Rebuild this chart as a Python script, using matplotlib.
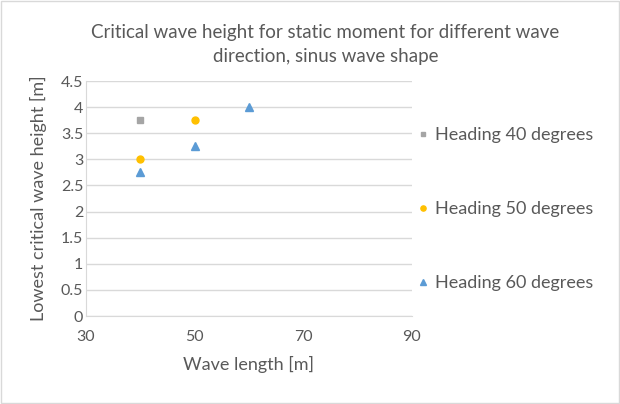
import matplotlib.pyplot as plt
from matplotlib.patches import Rectangle

plt.rcParams['font.family'] = ['Lato', 'DejaVu Sans']

# data
h40_x = [40]
h40_y = [3.75]
h50_x = [40, 50]
h50_y = [3.0, 3.75]
h60_x = [40, 50, 60]
h60_y = [2.75, 3.25, 4.0]

x_ticks = [30, 50, 70, 90]
y_ticks = [0, 0.5, 1, 1.5, 2, 2.5, 3, 3.5, 4, 4.5]

text_col = '#595959'
grid_col = '#D9D9D9'

fig = plt.figure(figsize=(6.2, 4.04), dpi=100)
ax = fig.add_axes([0.1387, 0.2178, 0.5258, 0.5817])

ax.plot(h40_x, h40_y, 's', color='#A5A5A5', markersize=4.5, label='Heading 40 degrees')
ax.plot(h50_x, h50_y, 'o', color='#FFC000', markersize=5, label='Heading 50 degrees')
ax.plot(h60_x, h60_y, '^', color='#5B9BD5', markersize=5.5, label='Heading 60 degrees')

ax.set_xlim(30, 90)
ax.set_ylim(0, 4.5)
ax.set_xticks(x_ticks)
ax.set_yticks(y_ticks)
ax.set_yticklabels([('%g' % v) for v in y_ticks])
ax.yaxis.grid(True, color=grid_col, linewidth=1)
ax.set_axisbelow(True)
for s in ['top', 'right']:
    ax.spines[s].set_visible(False)
for s in ['left', 'bottom']:
    ax.spines[s].set_color(grid_col)
ax.tick_params(length=0, labelsize=11.5, colors=text_col, pad=2)
ax.tick_params(axis='x', pad=10)

ax.set_xlabel('Wave length [m]', fontsize=13, color=text_col, labelpad=9)
ax.set_ylabel('Lowest critical wave height [m]', fontsize=13, color=text_col, labelpad=10)

fig.text(0.525, 0.89, 'Critical wave height for static moment for different wave\ndirection, sinus wave shape',
         ha='center', va='center', fontsize=13.5, color=text_col, linespacing=1.55)

leg = ax.legend(loc='center left', bbox_to_anchor=(1.015, 0.455), frameon=False,
                fontsize=13, labelcolor=text_col, labelspacing=3.2, markerscale=0.75,
                handlelength=0.5, handletextpad=0.4, borderaxespad=0, borderpad=0.1)

fig.patches.append(Rectangle((0.002, 0.002), 0.996, 0.996, transform=fig.transFigure,
                             fill=False, edgecolor=grid_col, linewidth=1))

fig.savefig('out.png', dpi=100)
